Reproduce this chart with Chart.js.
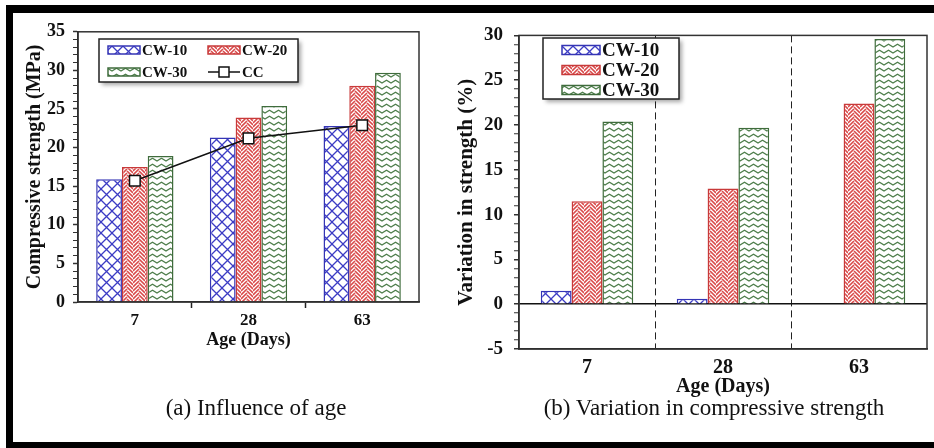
<!DOCTYPE html>
<html>
<head>
<meta charset="utf-8">
<script src="https://cdn.jsdelivr.net/npm/chart.js@4.4.0/dist/chart.umd.min.js"></script>
<style>
  html, body { margin: 0; padding: 0; background: #fff; }
  body { width: 934px; height: 448px; position: relative; overflow: hidden; font-family: "Liberation Serif", "Times New Roman", serif; }
  .edge { position: absolute; background: #000; }
  #ageWrap { position: absolute; left: 13px; top: 13px; }
  #varWrap { position: absolute; left: 452px; top: 13px; }
  .caption { position: absolute; top: 395px; font-size: 23px; line-height: 26px; color: #111; transform: translateX(-50%); white-space: nowrap; }
</style>
</head>
<body>
<div class="edge" style="left:6px; top:5px; width:928px; height:8px;"></div>
<div class="edge" style="left:6px; top:5px; width:7px; height:443px;"></div>
<div class="edge" style="left:6px; top:442px; width:928px; height:6px;"></div>

<div id="ageWrap"><canvas id="ageChart" width="440" height="400"></canvas></div>
<div id="varWrap"><canvas id="varChart" width="482" height="400"></canvas></div>

<div class="caption" style="left:256px;">(a) Influence of age</div>
<div class="caption" style="left:714px;">(b) Variation in compressive strength</div>

<script>
const ages = ['7', '28', '63'];

// compressive strength, MPa
const cw10Strength = [15.9, 21.3, 22.8];
const cw20Strength = [17.5, 23.9, 28.0];
const cw30Strength = [18.9, 25.4, 29.7];
const ccStrength = [15.7, 21.2, 22.9];

// variation against CC, %
const cw10Variation = [1.5, 0.6, -0.1];
const cw20Variation = [11.5, 12.9, 22.4];
const cw30Variation = [20.4, 19.7, 29.6];

const SERIF = '"Liberation Serif", "Times New Roman", serif';
const INK = '#111';

// fill patterns for the three mixes
function makePattern(kind) {
	const c = document.createElement('canvas');
	const g = c.getContext('2d');
	if (kind === 'lattice') {
		c.width = 11; c.height = 11;
		g.fillStyle = '#fff'; g.fillRect(0, 0, 11, 11);
		g.strokeStyle = '#3c3cc4'; g.lineWidth = 1.3;
		g.beginPath();
		g.moveTo(0, 0); g.lineTo(11, 11);
		g.moveTo(11, 0); g.lineTo(0, 11);
		g.stroke();
	} else if (kind === 'weave') {
		c.width = 12; c.height = 12;
		g.fillStyle = '#fff'; g.fillRect(0, 0, 12, 12);
		g.strokeStyle = '#d94a4a'; g.lineWidth = 1.6;
		g.beginPath();
		for (let y = -12; y <= 12; y += 4) {
			g.moveTo(0, y + 6); g.lineTo(6, y);
			g.moveTo(6, y + 2); g.lineTo(12, y + 8);
		}
		g.stroke();
	} else {
		c.width = 9; c.height = 6;
		g.fillStyle = '#fff'; g.fillRect(0, 0, 9, 6);
		g.strokeStyle = '#4d7d4a'; g.lineWidth = 1.4;
		g.beginPath();
		g.moveTo(-1, 4.6); g.lineTo(0, 4); g.lineTo(4.5, 1.2); g.lineTo(9, 4); g.lineTo(10, 4.6);
		g.stroke();
	}
	return g.createPattern(c, 'repeat');
}

const blueLattice = makePattern('lattice');
const redWeave = makePattern('weave');
const greenWave = makePattern('wave');

function barSet(label, data, fill, edge) {
	return { label: label, data: data, backgroundColor: fill, borderColor: edge, borderWidth: 1.5, order: 1 };
}

// box around the plot area
const plotFrame = {
	id: 'plotFrame',
	afterDatasetsDraw(chart) {
		const a = chart.chartArea;
		const ctx = chart.ctx;
		ctx.save();
		ctx.strokeStyle = '#333';
		ctx.lineWidth = 1.5;
		ctx.strokeRect(a.left, a.top, a.right - a.left, a.bottom - a.top);
		ctx.restore();
	}
};

// framed legend with a drop shadow, built from the datasets
const boxLegend = {
	id: 'boxLegend',
	afterDraw(chart, args, o) {
		const ctx = chart.ctx;
		ctx.save();
		ctx.filter = 'blur(2px)';
		ctx.fillStyle = 'rgba(0,0,0,0.35)';
		ctx.fillRect(o.x + 3, o.y + 3, o.w, o.h);
		ctx.filter = 'none';
		ctx.fillStyle = '#fff';
		ctx.fillRect(o.x, o.y, o.w, o.h);
		ctx.strokeStyle = '#222';
		ctx.lineWidth = 1.5;
		ctx.strokeRect(o.x, o.y, o.w, o.h);

		ctx.font = 'bold ' + o.fontSize + 'px ' + SERIF;
		ctx.textBaseline = 'middle';
		ctx.fillStyle = INK;
		chart.data.datasets.forEach(function(ds, i) {
			const col = i % o.cols;
			const row = Math.floor(i / o.cols);
			const sx = o.x + o.padX + col * o.colW;
			const cy = o.y + o.padY + row * o.rowH;
			if (ds.type === 'line') {
				ctx.strokeStyle = ds.borderColor;
				ctx.lineWidth = 1.5;
				ctx.beginPath();
				ctx.moveTo(sx, cy); ctx.lineTo(sx + o.sw, cy);
				ctx.stroke();
				ctx.fillStyle = '#fff';
				ctx.fillRect(sx + o.sw / 2 - 5, cy - 5, 10, 10);
				ctx.strokeRect(sx + o.sw / 2 - 5, cy - 5, 10, 10);
			} else {
				ctx.fillStyle = ds.backgroundColor;
				ctx.fillRect(sx, cy - o.sh / 2, o.sw, o.sh);
				ctx.strokeStyle = ds.borderColor;
				ctx.lineWidth = 1.5;
				ctx.strokeRect(sx, cy - o.sh / 2, o.sw, o.sh);
			}
			ctx.fillStyle = INK;
			ctx.fillText(ds.label, sx + o.sw + 2, cy + 1);
		});
		ctx.restore();
	}
};

function boldFont(size) {
	return { family: SERIF, size: size, weight: 'bold' };
}

// inner category ticks only, the outer ones sit on the frame
const innerOnly = function(ctx) {
	return ctx.index > 0 ? '#222' : 'rgba(0,0,0,0)';
};

new Chart(document.getElementById('ageChart'), {
	type: 'bar',
	data: {
		labels: ages,
		datasets: [
			barSet('CW-10', cw10Strength, blueLattice, '#3535b5'),
			barSet('CW-20', cw20Strength, redWeave, '#c83a3a'),
			barSet('CW-30', cw30Strength, greenWave, '#3f6c3c'),
			{
				type: 'line', label: 'CC', data: ccStrength, order: 0,
				borderColor: INK, borderWidth: 1.5,
				pointStyle: 'rect', pointRadius: 7.5,
				pointBackgroundColor: '#fff', pointBorderColor: INK, pointBorderWidth: 1.5
			}
		]
	},
	options: {
		responsive: false,
		animation: false,
		devicePixelRatio: 1,
		layout: { padding: { left: 10, top: 11, right: 34, bottom: 62 } },
		datasets: { bar: { barPercentage: 1, categoryPercentage: 0.68 } },
		plugins: {
			legend: { display: false },
			tooltip: { enabled: false },
			boxLegend: { x: 86, y: 26, w: 199, h: 43, cols: 2, colW: 100, rowH: 22, padX: 9, padY: 11, sw: 32, sh: 8, fontSize: 15 }
		},
		scales: {
			x: {
				grid: { offset: true, drawOnChartArea: false, tickLength: 6, tickColor: innerOnly, tickWidth: 1.5 },
				border: { color: '#222', width: 1.5 },
				ticks: { color: INK, font: boldFont(17), padding: 2 },
				title: { display: true, text: 'Age (Days)', color: INK, font: boldFont(18), padding: 0 },
				afterFit: function(s) { s.height = 49; }
			},
			y: {
				min: 0, max: 35,
				grid: { drawOnChartArea: false, tickLength: 5, tickColor: '#333', tickWidth: function(c) { return c.tick && c.tick.value % 5 === 0 ? 1.5 : 1; } },
				border: { color: '#222', width: 1.5 },
				ticks: {
					stepSize: 1, autoSkip: false, color: INK, font: boldFont(18), padding: 8,
					callback: function(v) { return v % 5 === 0 ? v : ''; }
				},
				title: { display: true, text: 'Compressive strength (MPa)', color: INK, font: boldFont(20), padding: 0 },
				afterFit: function(s) { s.width = 55; }
			}
		}
	},
	plugins: [plotFrame, boxLegend]
});

new Chart(document.getElementById('varChart'), {
	type: 'bar',
	data: {
		labels: ages,
		datasets: [
			barSet('CW-10', cw10Variation, blueLattice, '#3535b5'),
			barSet('CW-20', cw20Variation, redWeave, '#c83a3a'),
			barSet('CW-30', cw30Variation, greenWave, '#3f6c3c')
		]
	},
	options: {
		responsive: false,
		animation: false,
		devicePixelRatio: 1,
		layout: { padding: { left: 2, top: 14, right: 7, bottom: 14 } },
		datasets: { bar: { barPercentage: 1, categoryPercentage: 0.68 } },
		plugins: {
			legend: { display: false },
			tooltip: { enabled: false },
			boxLegend: { x: 91, y: 25, w: 136, h: 61, cols: 1, colW: 0, rowH: 20, padX: 19, padY: 12, sw: 38, sh: 9, fontSize: 19 }
		},
		scales: {
			x: {
				grid: { offset: true, drawTicks: false, color: innerOnly, lineWidth: 1 },
				border: { color: '#222', width: 1.5, dash: [7, 4] },
				ticks: { color: INK, font: boldFont(20), padding: 7 },
				title: { display: true, text: 'Age (Days)', color: INK, font: boldFont(20), padding: 0 },
				afterFit: function(s) { s.height = 50; }
			},
			y: {
				min: -5, max: 30,
				grid: {
					tickLength: 5, tickColor: '#333', lineWidth: 1.5,
					color: function(c) { return c.tick && c.tick.value === 0 ? INK : 'rgba(0,0,0,0)'; },
					tickWidth: function(c) { return c.tick && c.tick.value % 5 === 0 ? 1.5 : 1; }
				},
				border: { color: '#222', width: 1.5 },
				ticks: {
					stepSize: 1, autoSkip: false, color: INK, font: boldFont(19), padding: 11,
					callback: function(v) { return v % 5 === 0 ? v : ''; }
				},
				title: { display: true, text: 'Variation in strength (%)', color: INK, font: boldFont(21), padding: 0 },
				afterFit: function(s) { s.width = 65; }
			}
		}
	},
	plugins: [plotFrame, boxLegend]
});
</script>
</body>
</html>
